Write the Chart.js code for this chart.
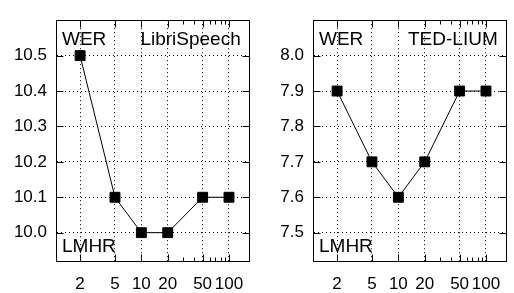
<!DOCTYPE html>
<html>
<head>
<meta charset="utf-8">
<script src="https://cdn.jsdelivr.net/npm/chart.js@4"></script>
<style>
body { margin: 0; background: #fff; }
#wrap { position: relative; width: 514px; height: 293px; }
canvas { position: absolute; top: 0; }
</style>
</head>
<body>
<div id="wrap">
  <canvas id="chart0" width="257" height="293" style="left:0px"></canvas>
  <canvas id="chart1" width="257" height="293" style="left:257px"></canvas>
</div>
<script>
var xValues = [2, 5, 10, 20, 50, 100];
var xMinor = [30, 40, 60, 70, 80, 90];
var werLibri = [10.5, 10.1, 10.0, 10.0, 10.1, 10.1];
var werTed = [7.9, 7.7, 7.6, 7.7, 7.9, 7.9];
var yTicksLibri = [10.0, 10.1, 10.2, 10.3, 10.4, 10.5];
var yTicksTed = [7.5, 7.6, 7.7, 7.8, 7.9, 8.0];
var titles = ["LibriSpeech", "TED-LIUM"];

Chart.defaults.font.family = "'Liberation Sans', Arial, sans-serif";
Chart.defaults.color = "#000";

// box, inward tics and the corner texts, gnuplot style
var framePlugin = {
  id: "frame",
  afterDraw: function (chart) {
    var ctx = chart.ctx;
    var a = chart.chartArea;
    var xs = chart.scales.x;
    var ys = chart.scales.y;
    var l = Math.round(a.left) - 0.5, r = Math.round(a.right) + 0.5;
    var t = Math.round(a.top) + 0.5, b = Math.round(a.bottom) + 0.5;
    ctx.save();
    ctx.strokeStyle = "#000";
    ctx.lineWidth = 1;
    ctx.strokeRect(l, t, r - l, b - t);
    ctx.beginPath();
    xValues.forEach(function (v) {
      var px = Math.round(xs.getPixelForValue(v)) + 0.5;
      ctx.moveTo(px, b); ctx.lineTo(px, b - 7);
      ctx.moveTo(px, t); ctx.lineTo(px, t + 7);
    });
    xMinor.forEach(function (v) {
      var px = Math.round(xs.getPixelForValue(v)) + 0.5;
      ctx.moveTo(px, b); ctx.lineTo(px, b - 4);
      ctx.moveTo(px, t); ctx.lineTo(px, t + 4);
    });
    ys.ticks.forEach(function (tk) {
      var py = Math.round(ys.getPixelForValue(tk.value)) + 0.5;
      ctx.moveTo(l, py); ctx.lineTo(l + 7, py);
      ctx.moveTo(r, py); ctx.lineTo(r - 7, py);
    });
    ctx.stroke();

    ctx.fillStyle = "#000";
    ctx.font = "19px 'Liberation Sans', Arial, sans-serif";
    ctx.textBaseline = "alphabetic";
    ctx.textAlign = "left";
    ctx.fillText("WER", a.left + 5, a.top + 25);
    ctx.fillText("LMHR", a.left + 5, a.bottom - 9);
    ctx.textAlign = "right";
    ctx.fillText(chart.options.plugins.frame.title, a.right - 8, a.top + 25);
    ctx.restore();
  }
};

function newPanel(id, title, values, yTicks, yMin, yMax) {
  var canvas = document.getElementById(id);
  var points = xValues.map(function (x, i) {
    return { x: x, y: values[i] };
  });
  return new Chart(canvas, {
    type: "line",
    data: {
      datasets: [{
        data: points,
        borderColor: "#000",
        borderWidth: 1,
        backgroundColor: "#000",
        pointStyle: "rect",
        pointRadius: 7,
        pointBorderWidth: 1,
        pointBorderColor: "#000",
        tension: 0,
      }]
    },
    options: {
      responsive: false,
      animation: false,
      devicePixelRatio: 1,
      layout: { padding: { top: 10, right: 1, left: 0, bottom: 0 } },
      plugins: {
        legend: { display: false },
        tooltip: { enabled: false },
        frame: { title: title },
      },
      scales: {
        x: {
          type: "logarithmic",
          min: 1.09,
          max: 168,
          afterBuildTicks: function (scale) {
            scale.ticks = xValues.map(function (v) { return { value: v }; });
          },
          afterFit: function (scale) { scale.height = 32; },
          grid: { color: "#000", lineWidth: 1, drawTicks: false },
          border: { display: false, dash: [1, 3] },
          ticks: {
            padding: 13,
            font: { size: 17 },
            maxRotation: 0,
            autoSkip: false,
            callback: function (v) { return String(v); },
          },
        },
        y: {
          min: yMin,
          max: yMax,
          afterBuildTicks: function (scale) {
            scale.ticks = yTicks.map(function (v) { return { value: v }; });
          },
          afterFit: function (scale) { scale.width = 57; },
          grid: { color: "#000", lineWidth: 1, drawTicks: false },
          border: { display: false, dash: [1, 3] },
          ticks: {
            padding: 10,
            font: { size: 17 },
            callback: function (v) { return v.toFixed(1); },
          },
        },
      },
    },
    plugins: [framePlugin],
  });
}

newPanel("chart0", titles[0], werLibri, yTicksLibri, 9.92, 10.6);
newPanel("chart1", titles[1], werTed, yTicksTed, 7.42, 8.1);
</script>
</body>
</html>
